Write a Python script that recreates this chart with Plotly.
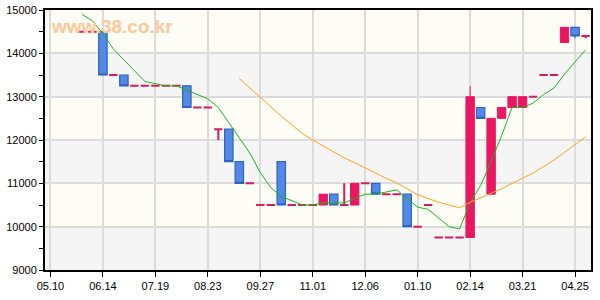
import plotly.graph_objects as go

# weekly candles
weeks = ["2021-05-31", "2021-06-07", "2021-06-14", "2021-06-21", "2021-06-28", "2021-07-05",
         "2021-07-12", "2021-07-19", "2021-07-26", "2021-08-02", "2021-08-09", "2021-08-16",
         "2021-08-23", "2021-08-30", "2021-09-06", "2021-09-13", "2021-09-20", "2021-09-27",
         "2021-10-04", "2021-10-11", "2021-10-18", "2021-10-25", "2021-11-01", "2021-11-08",
         "2021-11-15", "2021-11-22", "2021-11-29", "2021-12-06", "2021-12-13", "2021-12-20",
         "2021-12-27", "2022-01-03", "2022-01-10", "2022-01-17", "2022-01-24", "2022-01-31",
         "2022-02-07", "2022-02-14", "2022-02-21", "2022-02-28", "2022-03-07", "2022-03-14",
         "2022-03-21", "2022-03-28", "2022-04-04", "2022-04-11", "2022-04-18", "2022-04-25",
         "2022-05-02"]
open_ = [14500, 14500, 14500, 13500, 13500, 13250, 13250, 13250, 13250, 13250, 13250, 12750,
         12750, 12250, 12250, 11500, 11000, 10500, 10500, 11500, 10500, 10500, 10500, 10500,
         10750, 10500, 10500, 11000, 11000, 10750, 10750, 10750, 10000, 10500, 9750, 9750,
         9750, 9750, 12750, 10750, 12500, 12750, 12750, 13000, 13500, 13500, 14250, 14600,
         14400]
high = [14500, 14500, 14500, 13500, 13500, 13250, 13250, 13250, 13250, 13250, 13250, 12750,
        12750, 12250, 12250, 11500, 11000, 10500, 10500, 11500, 10500, 10500, 10500, 10750,
        10750, 11000, 11000, 11000, 11000, 10750, 10750, 10750, 10000, 10500, 9750, 9750,
        9750, 13250, 12750, 12500, 12750, 13000, 13000, 13000, 13500, 13500, 14600, 14600,
        14400]
low = [14500, 14500, 13500, 13500, 13250, 13250, 13250, 13250, 13250, 13250, 12750, 12750,
       12750, 12000, 11500, 11000, 11000, 10500, 10500, 10500, 10500, 10500, 10500, 10500,
       10500, 10500, 10500, 11000, 10750, 10750, 10750, 10000, 10000, 10500, 9750, 9750,
       9750, 9750, 12500, 10750, 12500, 12750, 12750, 13000, 13500, 13500, 14250, 14350,
       14350]
close = [14500, 14500, 13500, 13500, 13250, 13250, 13250, 13250, 13250, 13250, 12750, 12750,
         12750, 12250, 11500, 11000, 11000, 10500, 10500, 10500, 10500, 10500, 10500, 10750,
         10500, 10500, 11000, 11000, 10750, 10750, 10750, 10000, 10000, 10500, 9750, 9750,
         9750, 13000, 12500, 12500, 12750, 13000, 13000, 13000, 13500, 13500, 14600, 14400,
         14400]

# 5-week moving average (green), same weeks
ma5 = [14900, 14750, 14450, 14100, 13850, 13600, 13350, 13300, 13250, 13250, 13150, 13050,
       12950, 12750, 12400, 12050, 11700, 11250, 10900, 10700, 10600, 10500, 10500, 10550,
       10550, 10550, 10650, 10750, 10750, 10800, 10850, 10650, 10450, 10400, 10200, 10000,
       9950, 10550, 10950, 11500, 12100, 12750, 12750, 12850, 13050, 13200, 13520, 13800,
       14080]

# 20-week moving average (orange)
ma20_weeks = weeks[15:]
ma20 = [13420, 13200, 13000, 12770, 12550, 12350, 12150, 12000, 11862, 11725, 11587, 11475,
        11362, 11237, 11112, 11012, 10875, 10737, 10650, 10562, 10500, 10437, 10562, 10662,
        10762, 10875, 11000, 11125, 11237, 11387, 11537, 11717, 11887, 12070]

tick_dates = ["2021-05-10", "2021-06-14", "2021-07-19", "2021-08-23", "2021-09-27", "2021-11-01",
              "2021-12-06", "2022-01-10", "2022-02-14", "2022-03-21", "2022-04-25"]
tick_labels = ["05.10", "06.14", "07.19", "08.23", "09.27", "11.01", "12.06", "01.10",
               "02.14", "03.21", "04.25"]
y_ticks = [9000, 10000, 11000, 12000, 13000, 14000, 15000]
y_labels = ["9000", "10000", "11000", "12000", "13000", "14000", "15000"]

UP = "#EB1561"
FLAT = "#D51C62"
DOWN_FILL = "#5189E5"
DOWN_LINE = "#2B62C6"


def subset(cond):
    idx = [i for i in range(len(weeks)) if cond(open_[i], close[i])]
    return ([weeks[i] for i in idx], [open_[i] for i in idx], [high[i] for i in idx],
            [low[i] for i in idx], [close[i] for i in idx])


fig = go.Figure()

for cond, fill, line, lw in [
    (lambda o, c: c > o, UP, UP, 1),
    (lambda o, c: c < o, DOWN_FILL, DOWN_LINE, 1.2),
    (lambda o, c: c == o, FLAT, FLAT, 2),
]:
    x, o, h, l, c = subset(cond)
    fig.add_trace(go.Candlestick(
        x=x, open=o, high=h, low=l, close=c,
        increasing=dict(fillcolor=fill, line=dict(color=line, width=lw)),
        decreasing=dict(fillcolor=fill, line=dict(color=line, width=lw)),
        whiskerwidth=0, showlegend=False, hoverinfo="skip",
    ))

fig.add_trace(go.Scatter(x=weeks, y=ma5, mode="lines",
                         line=dict(color="#1DB51D", width=1), showlegend=False, hoverinfo="skip"))
fig.add_trace(go.Scatter(x=ma20_weeks, y=ma20, mode="lines",
                         line=dict(color="#FFA319", width=1), showlegend=False, hoverinfo="skip"))

# alternating background bands
for y0 in [9000, 11000, 13000]:
    fig.add_shape(type="rect", xref="paper", x0=0, x1=1, yref="y", y0=y0, y1=y0 + 1000,
                  fillcolor="#F5F5F5", line=dict(width=0), layer="below")

fig.add_annotation(text="<b>www.38.co.kr</b>", xref="paper", yref="paper",
                   x=0.007, y=0.985, xanchor="left", yanchor="top", showarrow=False,
                   font=dict(family="Liberation Sans, Arial", size=19, color="#FFC896"))

fig.update_layout(
    width=600, height=300,
    margin=dict(l=45, r=9, t=10, b=30),
    paper_bgcolor="white", plot_bgcolor="#FDFDF6",
    boxgap=0.2, boxgroupgap=0,
    font=dict(family="Liberation Sans, Arial", size=11, color="black"),
    xaxis=dict(
        type="date", range=["2021-05-06 08:38", "2022-05-05 15:22"],
        tickvals=tick_dates, ticktext=tick_labels, automargin=False,
        showgrid=True, gridcolor="#DCDCDC", gridwidth=1.5,
        showline=True, mirror=True, linecolor="black", linewidth=2,
        ticks="outside", ticklen=5, tickcolor="black", tickwidth=1,
        rangeslider=dict(visible=False), zeroline=False,
        tickfont=dict(size=11),
    ),
    yaxis=dict(
        range=[9000, 15000], tickvals=y_ticks, ticktext=y_labels, automargin=False,
        showgrid=True, gridcolor="#DCDCDC", gridwidth=1.5,
        showline=True, mirror=True, linecolor="black", linewidth=2,
        ticks="outside", ticklen=4, tickcolor="black", tickwidth=1,
        minor=dict(dtick=500, tick0=9000, ticks="outside", ticklen=4, tickcolor="black",
                   showgrid=False),
        zeroline=False, tickfont=dict(size=11),
    ),
)

fig.write_html("out.html")
